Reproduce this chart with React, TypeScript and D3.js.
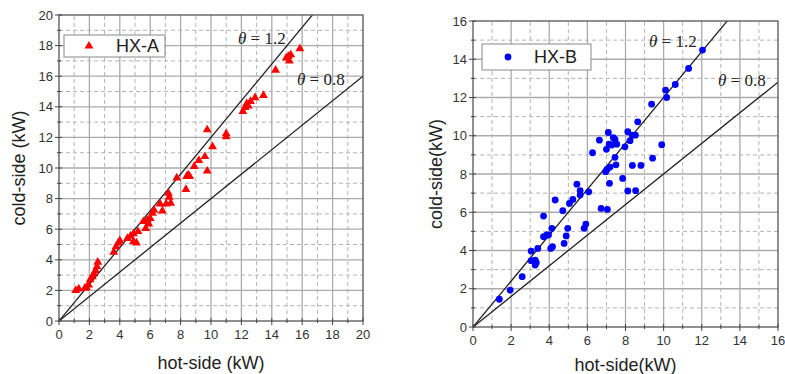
import { useRef, useEffect } from 'react';
import * as d3 from 'd3';

// HX-A (triangles), hot-side vs cold-side in kW
const hxAHot = [
  1.1, 1.3, 1.7, 1.8, 1.95, 2.05, 2.2, 2.3, 2.4, 2.5, 2.55,
  3.6, 3.75, 3.9, 4.0, 4.5, 4.7, 4.9, 5.1, 5.2, 4.9,
  5.55, 5.8, 5.7, 5.9, 6.0, 6.15, 6.25,
  6.65, 6.8, 7.05, 7.2, 7.25, 7.35,
  7.75, 8.35, 8.4, 8.5, 8.6,
  8.9, 9.2, 9.6, 9.75, 9.75, 10.1,
  11.0, 11.0,
  12.1, 12.25, 12.35, 12.45, 12.6, 12.9, 13.45,
  14.25, 14.95, 15.15, 15.25, 15.1, 15.85,
];
const hxACold = [
  2.0, 2.1, 2.15, 2.2, 2.35, 2.7, 2.9, 3.1, 3.3, 3.55, 3.85,
  4.5, 4.85, 5.1, 5.25, 5.4, 5.55, 5.2, 5.1, 5.85, 5.7,
  6.5, 6.6, 6.05, 6.35, 6.7, 7.05, 7.25,
  7.65, 7.2, 7.65, 8.35, 8.1, 7.7,
  9.35, 8.6, 9.45, 9.55, 9.45,
  10.1, 10.5, 10.75, 12.5, 9.8, 11.4,
  12.25, 12.05,
  13.7, 13.95, 14.2, 14.05, 14.35, 14.6, 14.75,
  16.4, 17.2, 17.0, 17.4, 17.3, 17.8,
];

// HX-B (dots)
const hxBHot = [
  1.38, 1.95, 2.58,
  3.05, 3.05, 3.26, 3.26, 3.32, 3.4,
  3.7, 3.7, 3.87, 3.96, 4.14, 4.08, 4.17, 4.31,
  4.71, 4.78, 4.89, 4.97, 5.06, 5.24,
  5.45, 5.62, 5.62, 5.83, 5.92, 6.07, 6.27, 6.63,
  6.72, 7.05,
  6.96, 7.03, 7.1, 7.0, 7.14, 7.19, 7.16, 7.28, 7.36, 7.45, 7.45, 7.5, 7.54,
  7.85, 7.97, 8.12, 8.12, 8.24, 8.36, 8.36, 8.52, 8.53, 8.64, 8.81,
  9.37, 9.42, 9.9,
  10.1, 10.16, 10.61, 11.31, 12.04,
];
const hxBCold = [
  1.45, 1.93, 2.63,
  3.97, 3.47, 3.5, 3.24, 3.36, 4.11,
  5.8, 4.72, 4.81, 4.81, 5.16, 4.11, 4.2, 6.64,
  6.08, 4.37, 4.76, 5.16, 6.46, 6.67,
  7.47, 7.13, 6.9, 5.16, 5.38, 7.07, 9.11, 9.77,
  6.2, 6.15,
  8.12, 8.24, 10.17, 9.29, 9.56, 8.36, 7.51, 9.51, 9.9, 9.81, 8.87, 8.48, 9.56,
  7.77, 9.42, 10.21, 7.11, 9.74, 10.03, 8.45, 10.03, 7.13, 10.73, 8.45,
  11.65, 8.83, 9.53,
  12.39, 12.0, 12.68, 13.52, 14.48,
];

const thetas = [1.2, 0.8];
const thetaLabels = ['1.2', '0.8'];

interface Panel {
  name: string;
  hot: number[];
  cold: number[];
  max: number;
  x0: number; x1: number; y0: number; y1: number;
  marker: 'triangle' | 'circle';
  color: string;
  xLabel: string;
  yLabel: string;
  yLabelX: number;
  xLabelY: number;
  legend: { x: number; y: number; w: number; h: number };
  thetaPos: [number, number][];
}

const panels: Panel[] = [
  {
    name: 'HX-A', hot: hxAHot, cold: hxACold, max: 20,
    x0: 59, x1: 363, y0: 321, y1: 15,
    marker: 'triangle', color: '#ff0000',
    xLabel: 'hot-side (kW)', yLabel: 'cold-side (kW)', yLabelX: 19, xLabelY: 369,
    legend: { x: 64, y: 35, w: 101, h: 22 },
    thetaPos: [[238, 44], [297, 85]],
  },
  {
    name: 'HX-B', hot: hxBHot, cold: hxBCold, max: 16,
    x0: 473, x1: 778, y0: 327, y1: 21,
    marker: 'circle', color: '#0000ff',
    xLabel: 'hot-side(kW)', yLabel: 'cold-side(kW)', yLabelX: 436, xLabelY: 371,
    legend: { x: 482, y: 44, w: 109, h: 26 },
    thetaPos: [[649, 47], [718, 86]],
  },
];

export default function App() {
  const svgRef = useRef<SVGSVGElement>(null);

  useEffect(() => {
    if (!svgRef.current) return;
    const svg = d3.select(svgRef.current);
    svg.selectAll('*').remove();

    panels.forEach((p) => {
      const x = d3.scaleLinear().domain([0, p.max]).range([p.x0, p.x1]);
      const y = d3.scaleLinear().domain([0, p.max]).range([p.y0, p.y1]);
      const g = svg.append('g');
      const clipId = `clip-${p.name}`;
      g.append('clipPath').attr('id', clipId)
        .append('rect').attr('x', p.x0).attr('y', p.y1)
        .attr('width', p.x1 - p.x0).attr('height', p.y0 - p.y1);

      const major = d3.range(0, p.max + 1, 2);
      const minor = d3.range(1, p.max, 2);

      // grid: dashed minor, solid major
      g.selectAll('.minx').data(minor).join('line')
        .attr('x1', (d) => x(d)).attr('x2', (d) => x(d))
        .attr('y1', p.y0).attr('y2', p.y1)
        .attr('stroke', '#b4b4b4').attr('stroke-dasharray', '4,3').attr('stroke-width', 1);
      g.selectAll('.miny').data(minor).join('line')
        .attr('y1', (d) => y(d)).attr('y2', (d) => y(d))
        .attr('x1', p.x0).attr('x2', p.x1)
        .attr('stroke', '#b4b4b4').attr('stroke-dasharray', '4,3').attr('stroke-width', 1);
      g.selectAll('.majx').data(major.slice(1, -1)).join('line')
        .attr('x1', (d) => x(d)).attr('x2', (d) => x(d))
        .attr('y1', p.y0).attr('y2', p.y1)
        .attr('stroke', '#ababab').attr('stroke-width', 1.3);
      g.selectAll('.majy').data(major.slice(1, -1)).join('line')
        .attr('y1', (d) => y(d)).attr('y2', (d) => y(d))
        .attr('x1', p.x0).attr('x2', p.x1)
        .attr('stroke', '#ababab').attr('stroke-width', 1.3);

      // theta lines: cold = theta * hot
      thetas.forEach((t) => {
        g.append('line')
          .attr('clip-path', `url(#${clipId})`)
          .attr('x1', x(0)).attr('y1', y(0))
          .attr('x2', x(p.max)).attr('y2', y(p.max * t))
          .attr('stroke', '#222').attr('stroke-width', 1.3);
      });

      // markers
      const pts = p.hot.map((h, i) => [h, p.cold[i]] as [number, number]);
      if (p.marker === 'triangle') {
        const tri = d3.symbol().type(d3.symbolTriangle).size(34);
        g.selectAll('.pt').data(pts).join('path')
          .attr('d', tri)
          .attr('transform', (d) => `translate(${x(d[0])},${y(d[1])})`)
          .attr('fill', p.color);
      } else {
        g.selectAll('.pt').data(pts).join('circle')
          .attr('cx', (d) => x(d[0])).attr('cy', (d) => y(d[1]))
          .attr('r', 3.4).attr('fill', p.color);
      }

      // theta labels
      thetaLabels.forEach((lbl, i) => {
        const t = g.append('text')
          .attr('x', p.thetaPos[i][0]).attr('y', p.thetaPos[i][1])
          .attr('font-family', '"Liberation Serif", "DejaVu Serif", serif')
          .attr('font-size', 17).attr('fill', '#222');
        t.append('tspan').attr('font-style', 'italic').text('θ');
        t.append('tspan').text(` = ${lbl}`);
      });

      // frame
      g.append('rect')
        .attr('x', p.x0).attr('y', p.y1)
        .attr('width', p.x1 - p.x0).attr('height', p.y0 - p.y1)
        .attr('fill', 'none').attr('stroke', '#555').attr('stroke-width', 1.3);

      // ticks
      const tickColor = '#444';
      g.selectAll('.tx').data(major).join('line')
        .attr('x1', (d) => x(d)).attr('x2', (d) => x(d))
        .attr('y1', p.y0 - 3).attr('y2', p.y0 + 4)
        .attr('stroke', tickColor);
      g.selectAll('.tmx').data(minor).join('line')
        .attr('x1', (d) => x(d)).attr('x2', (d) => x(d))
        .attr('y1', p.y0 - 2).attr('y2', p.y0 + 2)
        .attr('stroke', tickColor);
      g.selectAll('.ty').data(major).join('line')
        .attr('y1', (d) => y(d)).attr('y2', (d) => y(d))
        .attr('x1', p.x0 - 4).attr('x2', p.x0 + 3)
        .attr('stroke', tickColor);
      g.selectAll('.tmy').data(minor).join('line')
        .attr('y1', (d) => y(d)).attr('y2', (d) => y(d))
        .attr('x1', p.x0 - 2).attr('x2', p.x0 + 2)
        .attr('stroke', tickColor);

      const font = '"Liberation Sans", Arial, sans-serif';
      g.selectAll('.lx').data(major).join('text')
        .attr('x', (d) => x(d)).attr('y', p.y0 + 18)
        .attr('text-anchor', 'middle')
        .attr('font-family', font).attr('font-size', 13).attr('fill', '#333')
        .text((d) => d);
      g.selectAll('.ly').data(major).join('text')
        .attr('x', p.x0 - 6).attr('y', (d) => y(d))
        .attr('dy', '0.35em')
        .attr('text-anchor', 'end')
        .attr('font-family', font).attr('font-size', 13).attr('fill', '#333')
        .text((d) => d);

      // axis titles
      g.append('text')
        .attr('x', (p.x0 + p.x1) / 2).attr('y', p.xLabelY)
        .attr('text-anchor', 'middle')
        .attr('font-family', font).attr('font-size', 18).attr('fill', '#222')
        .text(p.xLabel);
      g.append('text')
        .attr('transform', `translate(${p.yLabelX},${(p.y0 + p.y1) / 2}) rotate(-90)`)
        .attr('dy', '0.35em')
        .attr('text-anchor', 'middle')
        .attr('font-family', font).attr('font-size', 18).attr('fill', '#222')
        .text(p.yLabel);

      // legend
      const lg = p.legend;
      g.append('rect')
        .attr('x', lg.x).attr('y', lg.y).attr('width', lg.w).attr('height', lg.h)
        .attr('fill', '#fff').attr('stroke', '#888').attr('stroke-width', 1);
      const cy = lg.y + lg.h / 2;
      if (p.marker === 'triangle') {
        g.append('path')
          .attr('d', d3.symbol().type(d3.symbolTriangle).size(34)())
          .attr('transform', `translate(${lg.x + 25},${cy})`)
          .attr('fill', p.color);
      } else {
        g.append('circle').attr('cx', lg.x + 26).attr('cy', cy).attr('r', 3.4).attr('fill', p.color);
      }
      g.append('text')
        .attr('x', lg.x + 52).attr('y', cy).attr('dy', '0.36em')
        .attr('font-family', font).attr('font-size', 18).attr('fill', '#222')
        .text(p.name);
    });
  }, []);

  return (
    <div style={{ position: 'absolute', left: 0, top: 0 }}>
      <svg ref={svgRef} width={785} height={374} style={{ display: 'block', background: '#fff' }} />
    </div>
  );
}
